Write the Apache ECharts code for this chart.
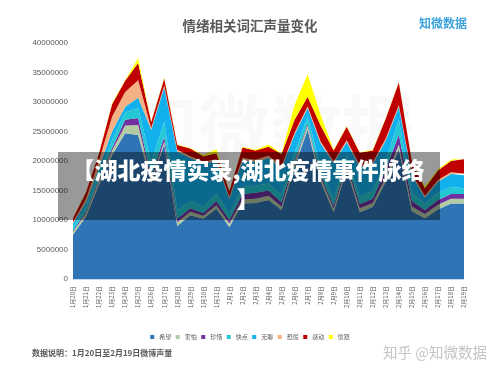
<!DOCTYPE html>
<html>
<head>
<meta charset="utf-8">
<script src="https://cdn.jsdelivr.net/npm/echarts@6/dist/echarts.min.js"></script>
<style>
html,body{margin:0;padding:0;background:#fff;}
#chart{width:500px;height:373px;}
</style>
</head>
<body>
<div id="chart"></div>
<script>
const categories = ['1月20日','1月21日','1月22日','1月23日','1月24日','1月25日','1月26日','1月27日','1月28日','1月29日','1月30日','1月31日','2月1日','2月2日','2月3日','2月4日','2月5日','2月6日','2月7日','2月8日','2月9日','2月10日','2月11日','2月12日','2月13日','2月14日','2月15日','2月16日','2月17日','2月18日','2月19日'];
const yTicks = [0, 5000000, 10000000, 15000000, 20000000, 25000000, 30000000, 35000000, 40000000];
const seriesNames = ['希望','害怕','珍惜','快点','无聊','恐慌','感动','愤怒'];
const hope    = [7500000,10600000,16000000,21000000,24700000,24400000,16300000,22800000,9000000,10800000,10200000,11900000,8800000,12800000,12900000,13400000,11700000,19000000,25300000,16500000,11300000,18500000,11300000,12200000,16500000,22000000,11500000,10300000,11800000,12800000,12800000];
const fear    = [500000,500000,600000,800000,1300000,1700000,500000,500000,600000,600000,500000,600000,600000,700000,700000,700000,600000,700000,700000,700000,600000,600000,700000,700000,800000,800000,800000,700000,800000,800000,800000];
const cherish = [200000,300000,300000,400000,1000000,1200000,500000,800000,600000,600000,500000,700000,600000,900000,1000000,900000,700000,400000,300000,400000,500000,500000,700000,700000,1200000,1700000,900000,700000,800000,800000,800000];
const hurry   = [700000,900000,1000000,1300000,1200000,1700000,2500000,2500000,1500000,1200000,1100000,1300000,1000000,1200000,1200000,1200000,1300000,1300000,1200000,1400000,1100000,1400000,1300000,1400000,1500000,2500000,1500000,1100000,1200000,1200000,1000000];
const bored   = [500000,700000,1000000,1500000,1000000,1700000,5500000,5900000,9900000,7300000,7300000,5400000,2600000,4400000,4000000,4300000,4500000,3100000,1500000,4000000,6100000,2200000,5000000,4500000,3500000,2200000,2800000,1000000,1900000,2200000,2200000];
const panic   = [200000,600000,1200000,2500000,2500000,3000000,300000,300000,300000,300000,300000,400000,300000,500000,400000,400000,300000,300000,300000,300000,300000,300000,300000,300000,300000,300000,300000,300000,300000,300000,300000];
const moved   = [700000,1100000,1200000,2100000,1900000,2900000,1000000,1200000,800000,1300000,900000,1000000,1000000,1800000,1600000,1500000,2100000,2200000,1600000,2700000,1900000,2300000,2100000,2000000,3400000,3800000,2100000,1300000,1600000,1900000,2400000];
const anger   = [100000,100000,100000,200000,100000,800000,100000,100000,100000,100000,200000,700000,100000,100000,100000,400000,100000,2500000,3800000,1800000,100000,100000,100000,100000,100000,100000,100000,300000,200000,200000,200000];

const seriesData = [hope, fear, cherish, hurry, bored, panic, moved, anger];
const colors = ['#2f74b5','#b4cca4','#7030a0','#22c8d4','#12b0ec','#f4b183','#c00000','#ffff00'];

const chart = echarts.init(document.getElementById('chart'), null, {renderer:'canvas'});
const option = {
  backgroundColor: '#ffffff',
  animation: false,
  color: colors,
  title: {
    text: '情绪相关词汇声量变化',
    left: 'center',
    top: 14,
    textStyle: {fontSize: 13.5, fontWeight: 'bold', color: '#595959', fontFamily: '"Noto Sans CJK SC", sans-serif'}
  },
  legend: {
    data: seriesNames,
    left: 'center',
    top: 329,
    itemWidth: 4,
    itemHeight: 4,
    itemGap: 4.5,
    icon: 'rect',
    textStyle: {fontSize: 6, color: '#595959', fontFamily: '"Noto Sans CJK SC", sans-serif'}
  },
  grid: {left: 73, right: 36, top: 43, bottom: 94, containLabel: false},
  xAxis: {
    type: 'category',
    data: categories,
    boundaryGap: false,
    axisLine: {lineStyle: {color: '#c5d9ee', width: 1}},
    axisTick: {show: false},
    axisLabel: {interval: 0, rotate: 90, fontSize: 6, margin: 7, color: '#595959', fontFamily: '"Noto Sans CJK SC", sans-serif'}
  },
  yAxis: {
    type: 'value',
    min: yTicks[0],
    max: yTicks[yTicks.length - 1],
    interval: yTicks[1] - yTicks[0],
    axisLine: {show: false},
    axisTick: {show: false},
    splitLine: {show: false},
    axisLabel: {fontSize: 8, margin: 5, color: '#595959', fontFamily: '"Liberation Sans", Arial, sans-serif',
      formatter: v => String(v)}
  },
  series: seriesNames.map((n, i) => ({
    name: n,
    type: 'line',
    stack: 'total',
    data: seriesData[i],
    showSymbol: false,
    symbol: 'none',
    lineStyle: {width: 0},
    areaStyle: {color: colors[i], opacity: 1},
    z: 2
  })),
  graphic: [
    {
      type: 'text', z: 1,
      style: {text: '知微数据', x: 270, y: 128, align: 'center', verticalAlign: 'middle',
        font: 'bold 72px "Noto Sans CJK SC"', fill: 'rgba(0,0,0,0.025)'}
    },
    {
      type: 'text', z: 10,
      style: {text: '知微数据', x: 467, y: 23, align: 'right', verticalAlign: 'middle',
        font: 'bold 12px "Noto Sans CJK SC"', fill: '#3ea2dc'}
    },
    {
      type: 'rect', z: 100,
      shape: {x: 58, y: 152, width: 382, height: 68},
      style: {fill: 'rgba(0,0,0,0.4)'}
    },
    {
      type: 'text', z: 101,
      style: {text: '【湖北疫情实录,湖北疫情事件脉络\n】', x: 248, y: 184.5, align: 'center', verticalAlign: 'middle',
        lineHeight: 29, font: '900 23px "Noto Sans CJK SC"', fill: '#ffffff'}
    },
    {
      type: 'text', z: 10,
      style: {text: '数据说明：1月20日至2月19日微博声量', x: 32, y: 353, align: 'left', verticalAlign: 'middle',
        font: 'bold 8px "Noto Sans CJK SC"', fill: '#595959'}
    },
    {
      type: 'text', z: 10,
      style: {text: '知乎 @知微数据', x: 487, y: 352, align: 'right', verticalAlign: 'middle',
        font: '14.5px "Noto Sans CJK SC"', fill: '#c4c4c4'}
    }
  ]
};
chart.setOption(option);
</script>
</body>
</html>
